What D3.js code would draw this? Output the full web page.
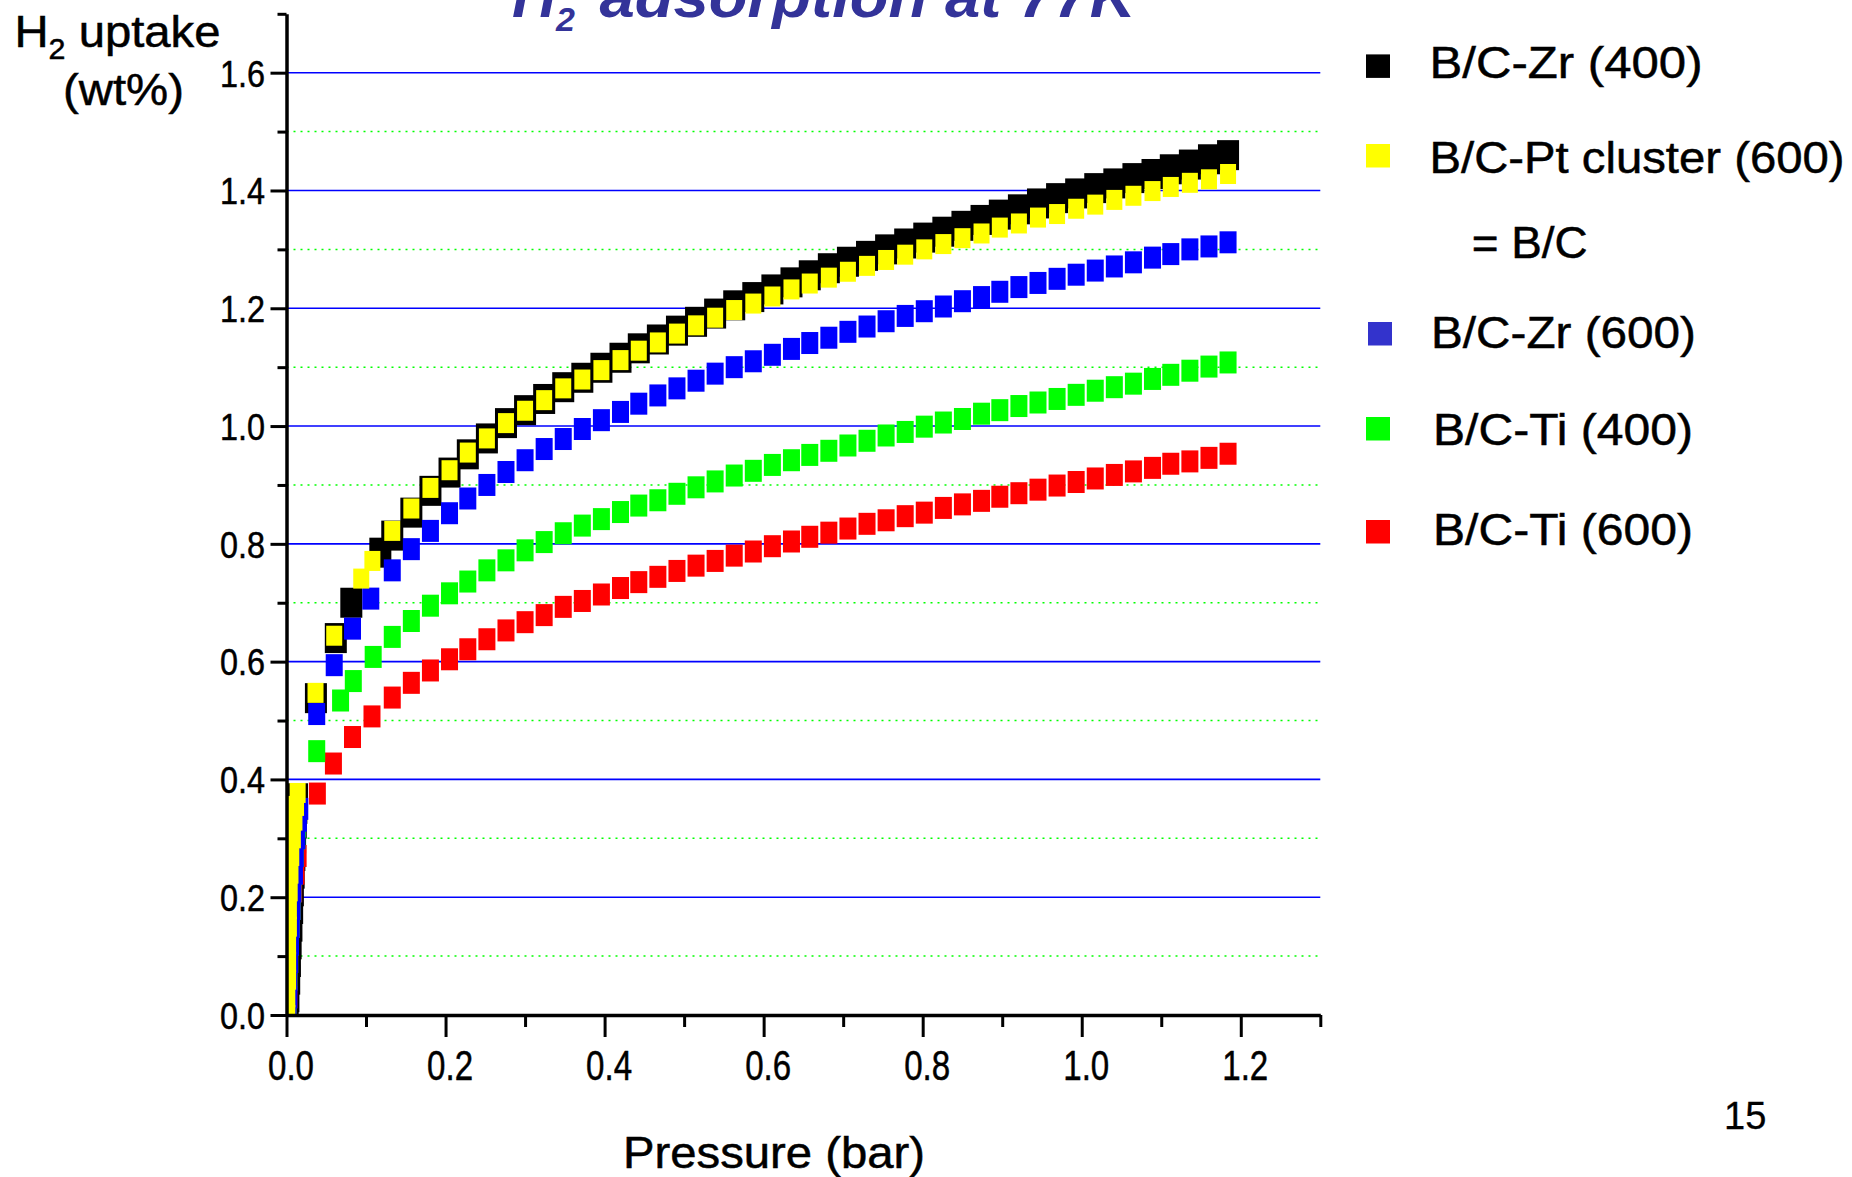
<!DOCTYPE html>
<html><head><meta charset="utf-8">
<script src="https://cdn.jsdelivr.net/npm/d3@7"></script>
<style>body{margin:0;background:#fff} text{font-family:"Liberation Sans",Arial,Helvetica,sans-serif}</style>
</head><body>
<svg id="c" width="1852" height="1177"></svg>
<script>
// ---------------- data ----------------
const pressure = [0.133,0.157,0.181,0.205,0.228,0.252,0.276,0.300,0.324,0.348,0.372,0.396,0.420,0.443,0.467,0.491,0.515,0.539,0.563,0.587,0.611,0.635,0.658,0.682,0.706,0.730,0.754,0.778,0.802,0.826,0.850,0.874,0.897,0.921,0.945,0.969,0.993,1.017,1.041,1.065,1.089,1.112,1.136,1.160,1.184];

const zr400LowP = [0.0015,0.0024,0.0034,0.0043,0.0052,0.0062,0.0071,0.0080,0.0090,0.0099,0.0108,0.0116,0.0124,0.0132,0.037,0.062,0.0815,0.118];
const zr400LowV = [0,0.03,0.06,0.09,0.12,0.15,0.18,0.21,0.24,0.27,0.30,0.325,0.35,0.368,0.538,0.640,0.700,0.785];
const zr400Main = [0.814,0.853,0.890,0.921,0.952,0.979,1.005,1.027,1.046,1.066,1.082,1.099,1.116,1.132,1.147,1.162,1.177,1.191,1.205,1.219,1.232,1.244,1.256,1.268,1.279,1.289,1.300,1.310,1.320,1.330,1.340,1.350,1.359,1.368,1.378,1.387,1.395,1.404,1.412,1.421,1.428,1.436,1.444,1.453,1.460];

const ptLowP = [0.001,0.001,0.002,0.002,0.002,0.003,0.003,0.004,0.005,0.006,0.008,0.010,0.012,0.014,0.0365,0.060,0.094,0.108];
const ptLowV = [0.00,0.03,0.06,0.09,0.12,0.15,0.18,0.21,0.24,0.27,0.30,0.33,0.355,0.377,0.547,0.644,0.741,0.771];
const ptMain = [0.822,0.860,0.895,0.925,0.955,0.979,1.005,1.026,1.044,1.064,1.079,1.095,1.112,1.128,1.142,1.157,1.171,1.184,1.197,1.208,1.220,1.232,1.242,1.252,1.262,1.272,1.282,1.291,1.300,1.309,1.319,1.327,1.337,1.344,1.354,1.360,1.369,1.376,1.384,1.391,1.399,1.406,1.413,1.419,1.428];

const zr600LowP = [0.002,0.003,0.003,0.004,0.005,0.006,0.007,0.008,0.010,0.011,0.013,0.015,0.0167,0.038,0.060,0.083,0.106];
const zr600LowV = [0.00,0.03,0.06,0.09,0.12,0.15,0.18,0.21,0.24,0.27,0.30,0.33,0.35,0.511,0.594,0.656,0.707];
const zr600Main = [0.755,0.791,0.822,0.852,0.877,0.900,0.922,0.942,0.961,0.978,0.995,1.010,1.024,1.038,1.052,1.064,1.077,1.089,1.100,1.110,1.121,1.131,1.141,1.150,1.160,1.169,1.178,1.187,1.195,1.203,1.212,1.219,1.228,1.236,1.243,1.250,1.257,1.264,1.271,1.278,1.286,1.292,1.300,1.305,1.312];

const ti400LowP = [0.002,0.002,0.003,0.004,0.005,0.006,0.007,0.008,0.009,0.011,0.013,0.0138,0.038,0.068,0.084,0.109];
const ti400LowV = [0.00,0.03,0.06,0.09,0.12,0.15,0.18,0.21,0.24,0.27,0.30,0.32,0.448,0.534,0.567,0.608];
const ti400Main = [0.642,0.669,0.695,0.716,0.736,0.755,0.772,0.789,0.803,0.818,0.831,0.842,0.854,0.865,0.874,0.885,0.896,0.906,0.916,0.924,0.934,0.942,0.951,0.958,0.967,0.975,0.984,0.990,0.999,1.006,1.012,1.021,1.027,1.034,1.040,1.046,1.053,1.060,1.066,1.072,1.080,1.087,1.094,1.101,1.108];

const ti600LowP = [0.002,0.003,0.003,0.004,0.005,0.006,0.007,0.009,0.012,0.0146,0.0388,0.059,0.083,0.1075];
const ti600LowV = [0.00,0.03,0.06,0.09,0.12,0.15,0.18,0.21,0.24,0.27,0.376,0.427,0.472,0.507];
const ti600Main = [0.539,0.564,0.585,0.604,0.621,0.638,0.653,0.667,0.679,0.693,0.703,0.714,0.725,0.735,0.744,0.754,0.763,0.771,0.780,0.787,0.796,0.804,0.812,0.819,0.826,0.834,0.840,0.847,0.853,0.861,0.867,0.873,0.880,0.886,0.892,0.899,0.905,0.911,0.917,0.923,0.929,0.936,0.940,0.946,0.953];

const legendLabels = ["B/C-Zr (400)", "B/C-Pt cluster (600)", "B/C-Zr (600)", "B/C-Ti (400)", "B/C-Ti (600)"];
const yMajorTicks = [0.0,0.2,0.4,0.6,0.8,1.0,1.2,1.4,1.6];
const yMinorTicks = [0.1,0.3,0.5,0.7,0.9,1.1,1.3,1.5,1.7];
const xMajorTicks = [0.0,0.2,0.4,0.6,0.8,1.0,1.2];
const xMinorTicks = [0.1,0.3,0.5,0.7,0.9,1.1,1.3];

// ---------------- chart ----------------
const svg = d3.select('#c');
svg.append('rect').attr('width',1852).attr('height',1177).attr('fill','#fff');

const x = d3.scaleLinear().domain([0,1.3]).range([286.5,1320.3]);
const y = d3.scaleLinear().domain([0,1.7]).range([1015,13.8]);

// grid
svg.append('g').selectAll('line').data(yMajorTicks.filter(d=>d>0)).join('line')
  .attr('x1',x(0)).attr('x2',x(1.3)).attr('y1',d=>y(d)).attr('y2',d=>y(d))
  .attr('stroke','#0000ff').attr('stroke-width',1.6);
svg.append('g').selectAll('line').data(yMinorTicks.filter(d=>d<1.65)).join('line')
  .attr('x1',x(0)).attr('x2',x(1.3)).attr('y1',d=>y(d)).attr('y2',d=>y(d))
  .attr('stroke','#00ff00').attr('stroke-width',1.5).attr('stroke-dasharray','2,5');

svg.append('clipPath').attr('id','plotclip').append('rect')
  .attr('x',x(0)).attr('y',y(1.7)).attr('width',x(1.3)-x(0)).attr('height',y(0)-y(1.7));

const series = [
  {p: zr400LowP.concat(pressure), v: zr400LowV.concat(zr400Main), color:'#000000', w:22, h:30},
  {p: ti600LowP.concat(pressure), v: ti600LowV.concat(ti600Main), color:'#ff0000', w:17, h:22},
  {p: ti400LowP.concat(pressure), v: ti400LowV.concat(ti400Main), color:'#00ff00', w:17, h:22},
  {p: zr600LowP.concat(pressure), v: zr600LowV.concat(zr600Main), color:'#0000ff', w:17, h:22},
  {p: ptLowP.concat(pressure),    v: ptLowV.concat(ptMain),       color:'#ffff00', w:16, h:20}
];

const plot = svg.append('g').attr('clip-path','url(#plotclip)');
series.forEach(s => {
  const pts = s.p.map((p,i)=>({p, v:s.v[i]}));
  plot.append('g').selectAll('rect').data(pts).join('rect')
    .attr('x',d=>x(d.p)-s.w/2).attr('y',d=>y(d.v)-s.h/2)
    .attr('width',s.w).attr('height',s.h).attr('fill',s.color);
});

// axes
const fmt = d3.format('.1f');
const gy = svg.append('g').attr('transform',`translate(${x(0)},0)`)
  .call(d3.axisLeft(y).tickValues(yMajorTicks).tickSize(16).tickSizeOuter(0).tickPadding(5.5).tickFormat(fmt));
const gy2 = svg.append('g').attr('transform',`translate(${x(0)},0)`)
  .call(d3.axisLeft(y).tickValues(yMinorTicks).tickSize(9).tickSizeOuter(0).tickFormat(''));
gy2.select('.domain').remove();
const gx = svg.append('g').attr('transform',`translate(0,${y(0)})`)
  .call(d3.axisBottom(x).tickValues(xMajorTicks).tickSize(22).tickSizeOuter(0).tickFormat(fmt));
const gx2 = svg.append('g').attr('transform',`translate(0,${y(0)})`)
  .call(d3.axisBottom(x).tickValues(xMinorTicks).tickSize(12).tickSizeOuter(0).tickFormat(''));
gx2.select('.domain').remove();

[gy,gy2,gx,gx2].forEach(g=>{
  g.selectAll('.domain').attr('stroke','#000').attr('stroke-width',3.5);
  g.selectAll('.tick line').attr('stroke','#000').attr('stroke-width',3);
});
gy.selectAll('.tick text').attr('font-size',37).attr('fill','#000')
  .attr('font-family','"Liberation Sans",Arial,sans-serif')
  .attr('stroke','#000').attr('stroke-width',0.5)
  .attr('textLength',45).attr('lengthAdjust','spacingAndGlyphs').attr('dy','0.36em');
gx.selectAll('.tick text').attr('font-size',42).attr('fill','#000')
  .attr('font-family','"Liberation Sans",Arial,sans-serif')
  .attr('stroke','#000').attr('stroke-width',0.5)
  .attr('y',65).attr('dy',0).attr('x',4)
  .attr('textLength',46).attr('lengthAdjust','spacingAndGlyphs');

const txt = (xx,yy,size,len,s) => svg.append('text').attr('x',xx).attr('y',yy).attr('font-size',size)
  .attr('stroke','#000').attr('stroke-width',0.5)
  .attr('textLength',len).attr('lengthAdjust','spacingAndGlyphs').text(s);

// axis titles
const yt = svg.append('text').attr('x',14.5).attr('y',47).attr('font-size',45)
  .attr('stroke','#000').attr('stroke-width',0.5)
  .attr('textLength',206).attr('lengthAdjust','spacingAndGlyphs');
yt.append('tspan').text('H');
yt.append('tspan').attr('font-size',29).attr('dy',12).text('2');
yt.append('tspan').attr('dy',-12).text(' uptake');
txt(63,105,45,121,'(wt%)');

txt(623,1168,44,302,'Pressure (bar)');

// title (cut at top)
const tcol = '#333399';
svg.append('text').attr('x',512).attr('y',17).attr('font-size',60).attr('font-weight','bold')
  .attr('font-style','italic').attr('fill',tcol).attr('textLength',44).attr('lengthAdjust','spacingAndGlyphs').text('H');
svg.append('text').attr('x',556).attr('y',31).attr('font-size',34).attr('font-weight','bold')
  .attr('font-style','italic').attr('fill',tcol).text('2');
svg.append('text').attr('x',599.5).attr('y',17).attr('font-size',60).attr('font-weight','bold')
  .attr('font-style','italic').attr('fill',tcol).attr('textLength',536).attr('lengthAdjust','spacingAndGlyphs')
  .text('adsorption at 77K');

// legend
const legendColors = ['#000000','#ffff00','#3333cc','#00ff00','#ff0000'];
const legSquares = [[1366,54.4],[1366,144],[1368,322],[1366,417],[1366,520]];
const legText = [[1429.5,77.9,273],[1429.5,173.2,415],[1431,348.2,265],[1433,444.6,260],[1433,545.1,260]];
legendLabels.forEach((lab,i)=>{
  svg.append('rect').attr('x',legSquares[i][0]).attr('y',legSquares[i][1]).attr('width',24).attr('height',23.5)
    .attr('fill',legendColors[i]);
  txt(legText[i][0],legText[i][1],45,legText[i][2],lab);
});
txt(1471.7,257.6,45,116,'= B/C');

// page number
svg.append('text').attr('x',1724).attr('y',1129).attr('font-size',38)
  .attr('stroke','#000').attr('stroke-width',0.3).text('15');
</script>
</body></html>
